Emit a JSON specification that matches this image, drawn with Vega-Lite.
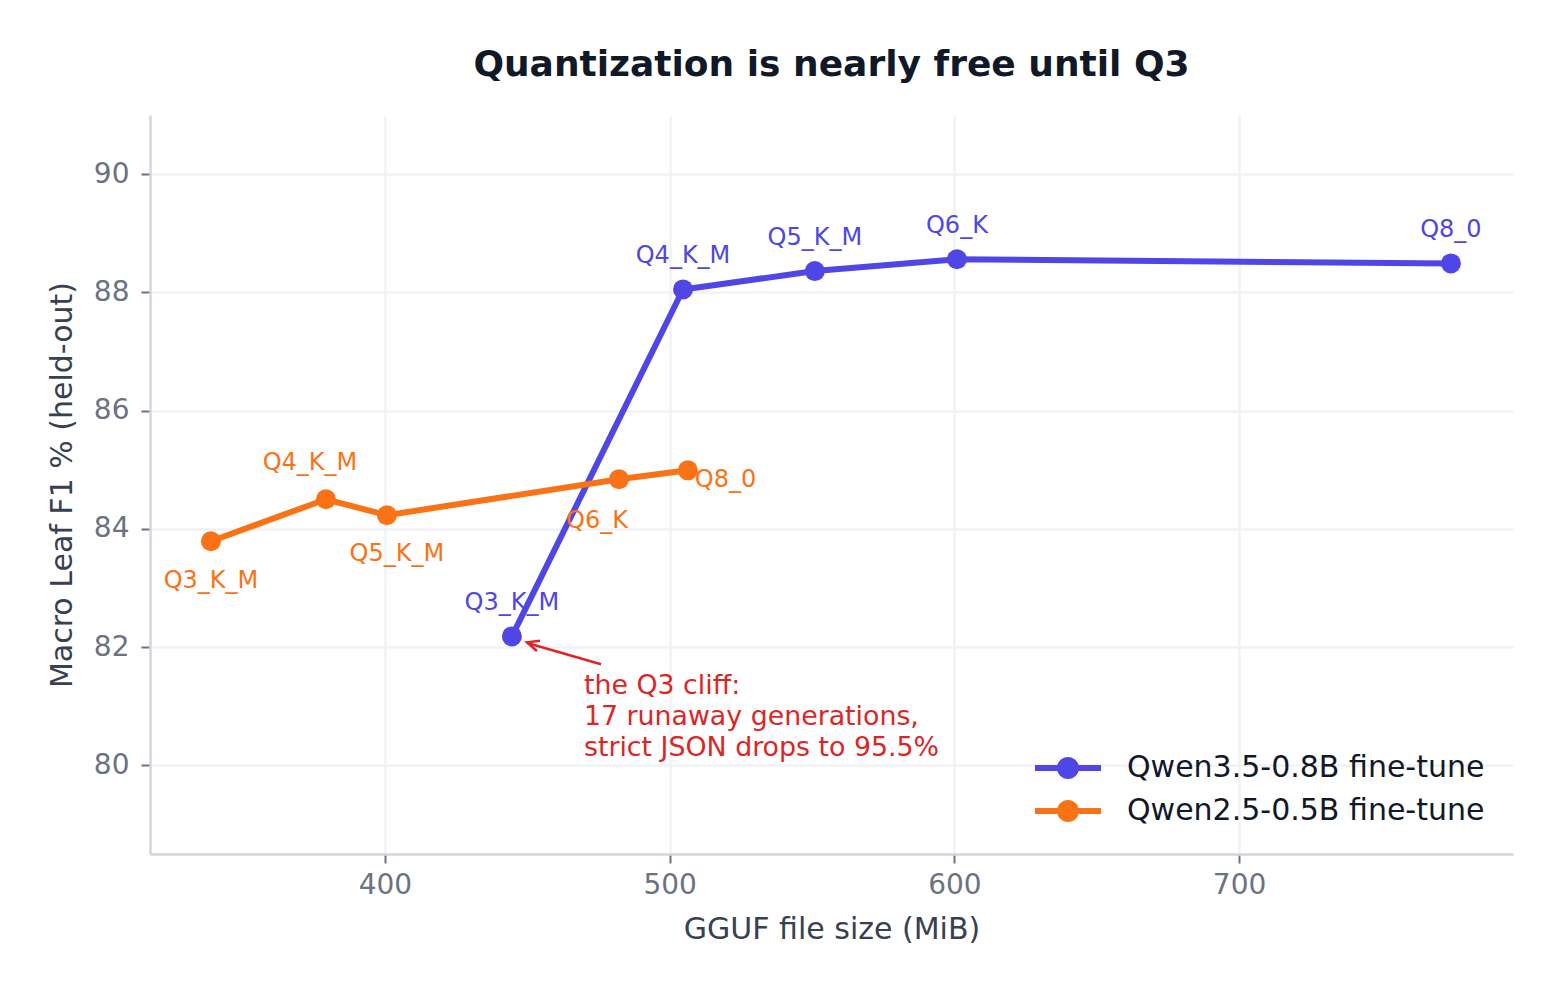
{
  "$schema": "https://vega.github.io/schema/vega-lite/v6.json",
  "width": 1363,
  "height": 739,
  "autosize": {"type": "none"},
  "padding": {"left": 150, "top": 115, "right": 49, "bottom": 139},
  "background": "white",
  "title": {
    "text": "Quantization is nearly free until Q3",
    "fontSize": 36,
    "fontWeight": "bold",
    "color": "#111827",
    "offset": 31
  },
  "data": {
    "values": [
      {"model": "Qwen3.5-0.8B fine-tune", "quant": "Q3_K_M", "size": 444.6, "f1": 82.18},
      {"model": "Qwen3.5-0.8B fine-tune", "quant": "Q4_K_M", "size": 504.7, "f1": 88.05},
      {"model": "Qwen3.5-0.8B fine-tune", "quant": "Q5_K_M", "size": 551.0, "f1": 88.36},
      {"model": "Qwen3.5-0.8B fine-tune", "quant": "Q6_K", "size": 600.9, "f1": 88.56},
      {"model": "Qwen3.5-0.8B fine-tune", "quant": "Q8_0", "size": 774.4, "f1": 88.49},
      {"model": "Qwen2.5-0.5B fine-tune", "quant": "Q3_K_M", "size": 338.9, "f1": 83.79},
      {"model": "Qwen2.5-0.5B fine-tune", "quant": "Q4_K_M", "size": 379.3, "f1": 84.50},
      {"model": "Qwen2.5-0.5B fine-tune", "quant": "Q5_K_M", "size": 400.7, "f1": 84.23},
      {"model": "Qwen2.5-0.5B fine-tune", "quant": "Q6_K", "size": 482.2, "f1": 84.84},
      {"model": "Qwen2.5-0.5B fine-tune", "quant": "Q8_0", "size": 506.4, "f1": 84.99}
    ]
  },
  "encoding": {
    "x": {
      "field": "size", "type": "quantitative",
      "scale": {"domain": [317.5, 796.2], "nice": false, "zero": false},
      "axis": {"title": "GGUF file size (MiB)", "values": [400, 500, 600, 700]}
    },
    "y": {
      "field": "f1", "type": "quantitative",
      "scale": {"domain": [78.5, 91.0], "nice": false, "zero": false},
      "axis": {"title": "Macro Leaf F1 % (held-out)", "values": [80, 82, 84, 86, 88, 90]}
    },
    "color": {
      "field": "model", "type": "nominal",
      "scale": {"domain": ["Qwen3.5-0.8B fine-tune", "Qwen2.5-0.5B fine-tune"], "range": ["#4f46e5", "#f97316"]},
      "legend": {
        "title": null,
        "orient": "bottom-right",
        "offset": 28,
        "symbolType": "M-3,-0.27 H3 V0.27 H-3 Z M1,0 A1,1 0 1,1 -1,0 A1,1 0 1,1 1,0 Z",
        "symbolSize": 484,
        "symbolStrokeWidth": 0,
        "symbolOpacity": 1,
        "labelFontSize": 30,
        "labelColor": "#111827",
        "labelLimit": 600,
        "labelOffset": 44,
        "rowPadding": 13
      }
    }
  },
  "layer": [
    {
      "mark": {"type": "line", "strokeWidth": 6}
    },
    {
      "mark": {"type": "point", "filled": true, "size": 400, "opacity": 1}
    },
    {
      "transform": [{"filter": "datum.model == 'Qwen3.5-0.8B fine-tune'"}],
      "mark": {"type": "text", "fontSize": 24, "dy": -33, "baseline": "middle"},
      "encoding": {"text": {"field": "quant"}, "color": {"value": "#4f46e5"}}
    },
    {
      "transform": [{"filter": "datum.model == 'Qwen2.5-0.5B fine-tune' && datum.quant == 'Q3_K_M'"}],
      "mark": {"type": "text", "fontSize": 24, "dy": 40, "baseline": "middle"},
      "encoding": {"text": {"field": "quant"}, "color": {"value": "#f97316"}}
    },
    {
      "transform": [{"filter": "datum.model == 'Qwen2.5-0.5B fine-tune' && datum.quant == 'Q4_K_M'"}],
      "mark": {"type": "text", "fontSize": 24, "dx": -16, "dy": -36, "baseline": "middle"},
      "encoding": {"text": {"field": "quant"}, "color": {"value": "#f97316"}}
    },
    {
      "transform": [{"filter": "datum.model == 'Qwen2.5-0.5B fine-tune' && datum.quant == 'Q5_K_M'"}],
      "mark": {"type": "text", "fontSize": 24, "dx": 10, "dy": 39, "baseline": "middle"},
      "encoding": {"text": {"field": "quant"}, "color": {"value": "#f97316"}}
    },
    {
      "transform": [{"filter": "datum.model == 'Qwen2.5-0.5B fine-tune' && datum.quant == 'Q6_K'"}],
      "mark": {"type": "text", "fontSize": 24, "dx": -22, "dy": 42, "baseline": "middle"},
      "encoding": {"text": {"field": "quant"}, "color": {"value": "#f97316"}}
    },
    {
      "transform": [{"filter": "datum.model == 'Qwen2.5-0.5B fine-tune' && datum.quant == 'Q8_0'"}],
      "mark": {"type": "text", "fontSize": 24, "align": "left", "dx": 7, "dy": 10, "baseline": "middle"},
      "encoding": {"text": {"field": "quant"}, "color": {"value": "#f97316"}}
    },
    {
      "data": {"values": [{"size": 475.9, "f1": 81.71, "size2": 450.6, "f12": 82.06}]},
      "mark": {"type": "rule", "strokeWidth": 2.5},
      "encoding": {
        "x2": {"field": "size2"},
        "y2": {"field": "f12"},
        "color": {"value": "#dc2626"}
      }
    },
    {
      "data": {"values": [{"size": 449.9, "f1": 82.08}]},
      "mark": {
        "type": "point",
        "shape": "M-1,-0.45 L0,0 L-1,0.45",
        "filled": false,
        "size": 576,
        "angle": 196.8,
        "strokeWidth": 2.5,
        "opacity": 1
      },
      "encoding": {"color": {"value": "#dc2626"}}
    },
    {
      "data": {"values": [{"size": 469.9, "f1": 81.56, "note": "the Q3 cliff:\n17 runaway generations,\nstrict JSON drops to 95.5%"}]},
      "mark": {"type": "text", "align": "left", "baseline": "top", "fontSize": 26.8, "lineHeight": 31, "lineBreak": "\n"},
      "encoding": {"text": {"field": "note"}, "color": {"value": "#dc2626"}}
    }
  ],
  "config": {
    "font": "DejaVu Sans",
    "view": {"stroke": null},
    "axis": {
      "grid": true,
      "gridColor": "#f1f2f4",
      "gridWidth": 2.5,
      "domainColor": "#d1d5db",
      "domainWidth": 2.5,
      "tickColor": "#6b7280",
      "tickWidth": 2,
      "tickSize": 9,
      "labelFontSize": 28,
      "labelColor": "#6b7280",
      "labelPadding": 8,
      "titleFontSize": 30,
      "titleFontWeight": "normal",
      "titleColor": "#374151",
      "titlePadding": 15
    },
    "axisY": {"labelPadding": 12, "titlePadding": 16}
  }
}
